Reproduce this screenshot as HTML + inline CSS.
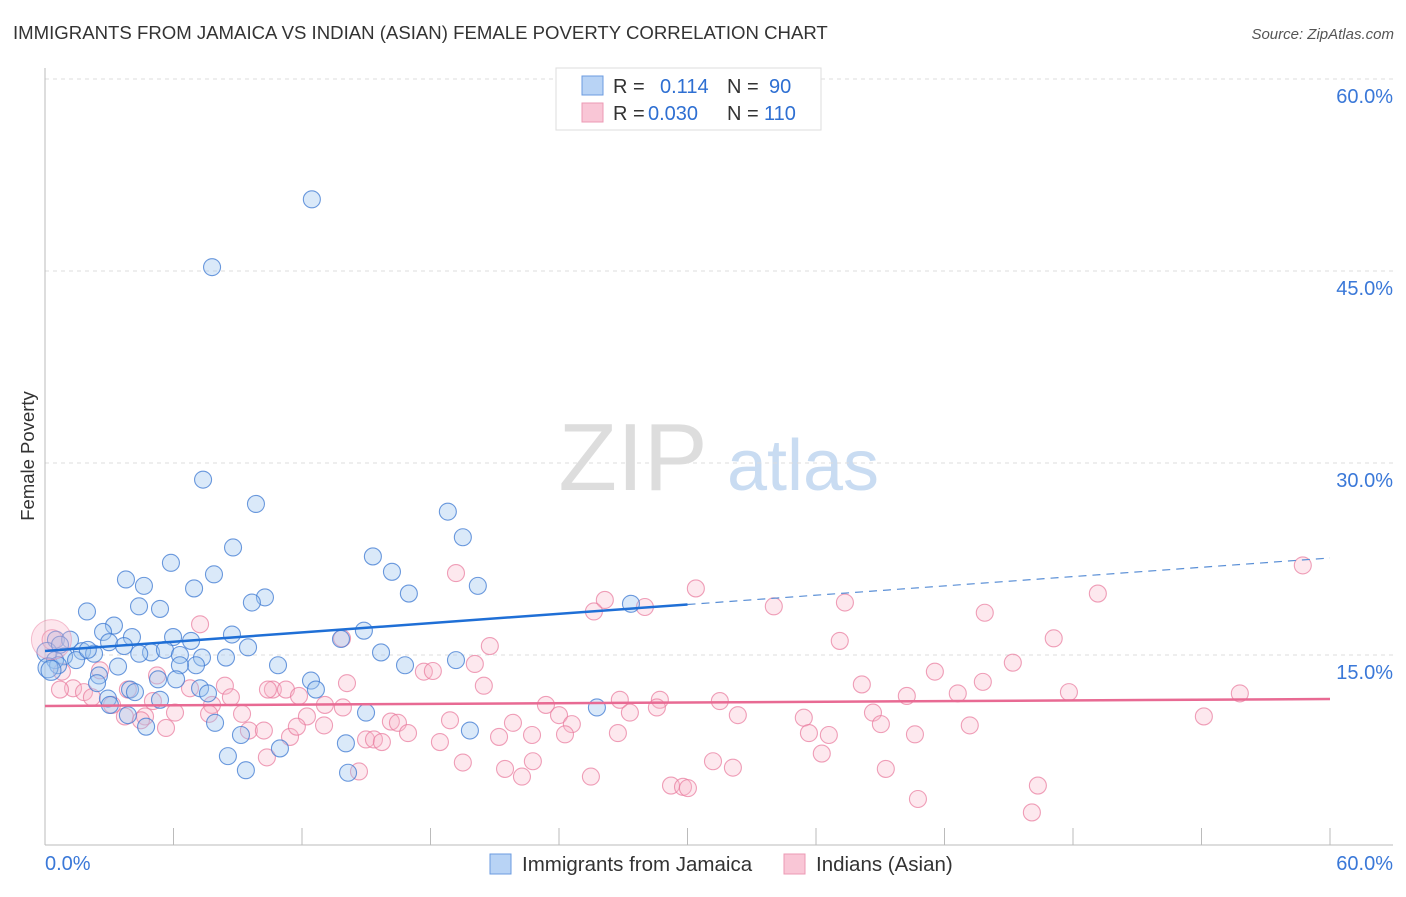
<!DOCTYPE html>
<html><head><meta charset="utf-8"><style>
body{margin:0;background:#fff;font-family:"Liberation Sans",sans-serif;}
svg text{font-family:"Liberation Sans",sans-serif;}
</style></head><body>
<svg id="chart" width="1406" height="892" viewBox="0 0 1406 892" xmlns="http://www.w3.org/2000/svg">
<text x="13" y="39" font-size="18.6" fill="#333">IMMIGRANTS FROM JAMAICA VS INDIAN (ASIAN) FEMALE POVERTY CORRELATION CHART</text>
<text x="1394" y="39" font-size="15" fill="#555" font-style="italic" text-anchor="end">Source: ZipAtlas.com</text>
<text transform="translate(34,456) rotate(-90)" font-size="18.5" fill="#333" text-anchor="middle">Female Poverty</text>
<g>
<text x="633" y="490" font-size="96" fill="#ddd" font-family="Liberation Serif" text-anchor="middle">ZIP</text>
<text x="803" y="490" font-size="72" fill="#c9dcf2" text-anchor="middle">atlas</text>
</g>
<g id="grid"></g>
<g id="axes"></g>
<g id="points"></g>
<g id="trends"></g>
<g>
<rect x="556" y="68" width="265" height="62" fill="#fff" stroke="#ddd"/>
<rect x="582" y="76" width="21" height="19" fill="#b8d3f5" stroke="#6b9be0"/>
<rect x="582" y="103" width="21" height="19" fill="#f9c6d6" stroke="#ec9ab4"/>
<text y="93" font-size="20" fill="#333"><tspan x="613">R =</tspan><tspan x="660" fill="#2e6fd2">0.114</tspan><tspan x="727">N =</tspan><tspan x="769" fill="#2e6fd2">90</tspan></text>
<text y="120" font-size="20" fill="#333"><tspan x="613">R =</tspan><tspan x="648" fill="#2e6fd2">0.030</tspan><tspan x="727">N =</tspan><tspan x="764" fill="#2e6fd2">110</tspan></text>
</g>
<g>
<rect x="490" y="854" width="21" height="20" fill="#b8d3f5" stroke="#6b9be0"/>
<text x="522" y="871" font-size="20.5" fill="#333">Immigrants from Jamaica</text>
<rect x="784" y="854" width="21" height="20" fill="#f9c6d6" stroke="#ec9ab4"/>
<text x="816" y="871" font-size="20.5" fill="#333">Indians (Asian)</text>
</g>
</svg>
<script>
const yTicks=[15,30,45,60];
const yTickLabels=["15.0%","30.0%","45.0%","60.0%"];
const xEndLabels=["0.0%","60.0%"];
const blueX=[12.46,7.8,7.38,9.85,18.81,19.51,8.78,15.31,5.88,16.2,7.89,3.78,4.62,20.21,16.99,6.96,10.27,9.66,4.39,5.37,1.96,27.36,3.22,2.71,4.06,5.98,8.73,14.89,13.82,0.51,1.17,9.48,1.73,2.99,6.82,3.69,4.95,5.6,6.3,7.33,8.45,15.69,2.29,0.89,0.09,0.47,1.45,0.61,0.14,3.41,7.05,10.88,16.81,19.19,6.3,2.52,2.43,3.97,5.28,6.12,7.24,12.42,12.65,7.61,4.2,2.94,5.37,3.03,3.87,25.77,14.99,7.94,4.72,9.15,19.84,14.05,10.97,8.54,9.38,14.15,0.28,0.7,2.0,4.4];
const blueY=[50.6,45.3,28.7,26.8,26.2,24.2,23.4,22.7,22.2,21.5,21.3,20.9,20.4,20.4,19.8,20.2,19.5,19.1,18.8,18.6,18.4,19.0,17.3,16.8,16.4,16.4,16.6,16.9,16.25,16.2,16.2,15.6,15.3,16.0,16.1,15.7,15.2,15.4,15.0,14.8,14.8,15.2,15.1,14.9,15.2,14.6,14.6,14.2,14.0,14.1,14.2,14.2,14.2,14.6,14.2,13.4,12.8,12.3,13.1,13.1,12.4,13.0,12.3,12.0,12.1,11.6,11.5,11.1,10.3,10.9,10.5,9.7,9.4,8.75,9.1,8.1,7.7,7.1,6.0,5.8,13.8,15.8,15.4,15.1];
const pinkX=[58.73,30.39,26.14,49.16,28.01,25.63,34.03,37.35,43.88,19.19,7.24,20.77,37.11,13.87,47.1,45.19,41.55,20.07,17.69,18.11,38.14,43.79,20.49,14.1,5.23,2.57,0.33,0.79,1.31,1.82,2.19,0.7,3.87,6.77,8.4,10.64,11.25,11.86,8.68,12.23,7.8,23.39,28.71,26.84,27.31,28.57,31.51,40.24,42.62,47.81,55.79,35.43,32.35,38.66,39.03,43.18,54.11,6.07,3.13,5.04,4.67,3.73,4.48,5.65,9.2,9.52,10.22,11.44,13.03,13.91,14.99,15.36,15.73,16.15,16.48,16.95,18.44,18.91,21.2,21.85,22.74,24.0,24.6,24.28,26.75,35.67,36.6,36.27,40.62,39.26,31.19,32.12,19.51,21.48,22.27,22.78,25.49,29.23,29.79,30.02,40.76,46.36,46.08,10.36,14.66,10.41,13.07,11.76,7.66];
const pinkY=[22.0,20.2,19.3,19.8,18.75,18.4,18.8,19.1,18.3,21.4,17.4,15.7,16.1,16.3,16.3,14.4,13.7,14.3,13.7,13.75,12.7,12.9,12.6,12.8,13.4,13.8,16.2,13.7,12.4,12.1,11.7,12.3,12.3,12.4,12.6,12.3,12.3,11.8,11.7,10.2,11.1,11.1,11.5,11.5,10.5,10.9,11.4,11.8,12.0,12.1,12.0,10.1,10.3,10.5,9.6,9.5,10.2,10.5,11.1,11.4,10.2,10.2,9.9,9.3,10.4,9.1,9.1,8.6,9.5,10.9,8.4,8.4,8.2,9.8,9.7,8.9,8.2,9.9,8.6,9.7,8.75,10.3,9.6,8.8,8.9,8.9,8.75,7.3,8.8,6.1,6.7,6.2,6.6,6.1,5.5,6.7,5.5,4.8,4.7,4.6,3.75,4.8,2.7,7.0,5.9,12.3,11.1,9.4,10.4];
const blueTrend=[15.31,22.58]; const blueSolidEnd=30;
const pinkTrend=[11.02,11.56];
const X0=45,X1=1330,Y0=847,Y1=79;
const sx=v=>X0+(v/60)*(X1-X0);
const sy=v=>Y0-(v/60)*(Y0-Y1);
const NS="http://www.w3.org/2000/svg";
function mk(t,a,p){const e=document.createElementNS(NS,t);for(const k in a)e.setAttribute(k,a[k]);p.appendChild(e);return e;}
const grid=document.getElementById('grid'),axes=document.getElementById('axes'),pts=document.getElementById('points'),tr=document.getElementById('trends');
yTicks.forEach((t,i)=>{
 const l=mk('line',{x1:X0,x2:1393,y1:sy(t),y2:sy(t),stroke:'#ddd','stroke-dasharray':'4,4'},grid);
 
 
 const tx=mk('text',{x:1393,y:sy(t)+24,'font-size':20,fill:'#3a78d8','text-anchor':'end'},grid);
 tx.textContent=yTickLabels[i];
 
 
});
const la=mk('line',{x1:X0,x2:X0,y1:68,y2:845,stroke:'#bbb'},axes);


const ba=mk('line',{x1:X0,x2:1393,y1:845,y2:845,stroke:'#bbb'},axes);


for(let v=0;v<=60;v+=6){
 const tk=mk('line',{x1:sx(v),x2:sx(v),y1:828,y2:845,stroke:'#bbb'},axes);
 
 
}
[[0,'start',45],[60,'end',1393]].forEach((d,i)=>{
 const t=mk('text',{x:d[2],y:870,'font-size':20,fill:'#3a78d8','text-anchor':d[1]},axes);
 t.textContent=xEndLabels[i];
 
 
});
function dots(xs,ys,fill,stroke,name){
 xs.forEach((x,i)=>{
  const r=(x<0.4)?10:8.5;
  const c=mk('circle',{cx:sx(x),cy:sy(ys[i]),r:r,fill:fill,stroke:stroke,'stroke-width':1.1},pts);
  
  
 });
}
dots(pinkX,pinkY,'rgba(248,182,202,0.32)','rgba(232,120,155,0.7)','pink-point');
dots(blueX,blueY,'rgba(158,196,240,0.38)','rgba(60,120,210,0.75)','blue-point');
const big=mk('circle',{cx:sx(0.3),cy:sy(16.2),r:20,fill:'rgba(248,182,202,0.35)',stroke:'rgba(232,120,155,0.45)'},pts);


const by=x=>blueTrend[0]+(blueTrend[1]-blueTrend[0])*x/60;
const bs=mk('line',{x1:sx(0),y1:sy(by(0)),x2:sx(blueSolidEnd),y2:sy(by(blueSolidEnd)),stroke:'#1f6fd6','stroke-width':2.5},tr);


const bd=mk('line',{x1:sx(blueSolidEnd),y1:sy(by(blueSolidEnd)),x2:sx(60),y2:sy(by(60)),stroke:'#5a8fd6','stroke-width':1.2,'stroke-dasharray':'8,6'},tr);


const pl=mk('line',{x1:sx(0),y1:sy(pinkTrend[0]),x2:sx(60),y2:sy(pinkTrend[1]),stroke:'#e86a93','stroke-width':2.5},tr);


</script>
</body></html>
